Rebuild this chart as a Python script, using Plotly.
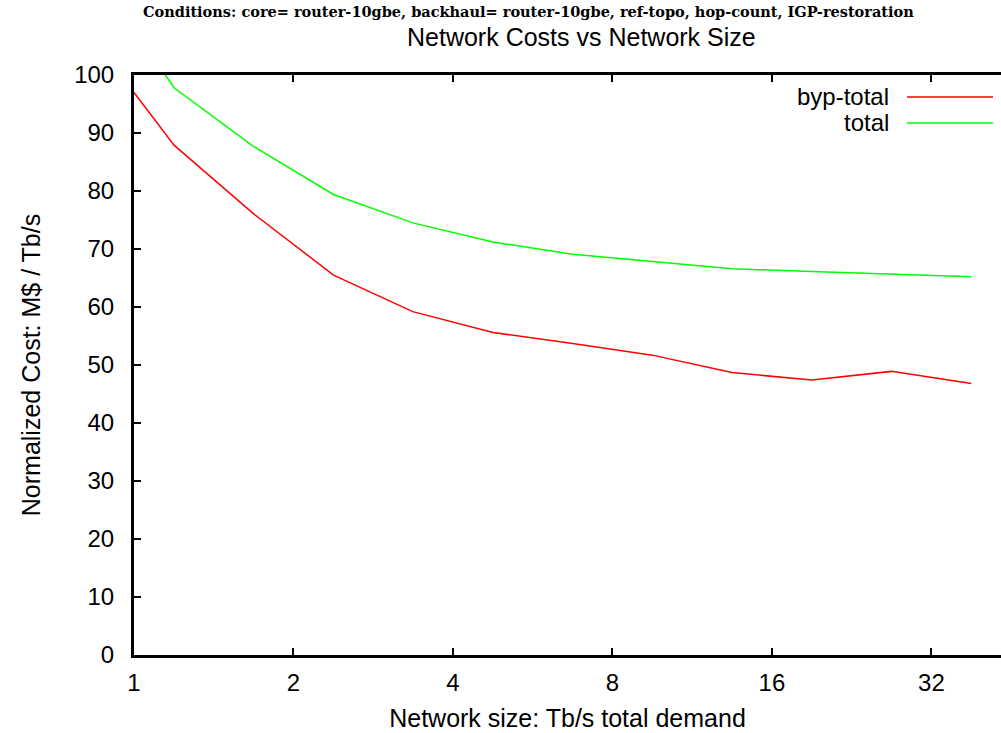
import plotly.graph_objects as go

# Network size (Tb/s total demand) and normalized cost (M$ per Tb/s)
demand_tbps = [1.0, 1.19, 1.68, 2.38, 3.36, 4.76, 6.73, 9.51, 13.45, 19.03, 26.9, 38.05]
byp_total = [97.0, 87.9, 76.1, 65.5, 59.2, 55.6, 53.7, 51.7, 48.7, 47.4, 48.9, 46.8]
total = [108.1, 97.8, 87.7, 79.4, 74.5, 71.2, 69.1, 67.8, 66.6, 66.1, 65.6, 65.2]

series_names = ["byp-total", "total"]
series_colors = ["#ff0000", "#00ff00"]

x_ticks = [1, 2, 4, 8, 16, 32]
y_ticks = list(range(0, 101, 10))

W, H = 1001, 733
L, R, T, B = 134, 0, 75, 78
pw = W - L - R
ph = H - T - B


def px_to_paper(px, py):
    """Map a pixel position on the page to plot-area paper coordinates."""
    return (px - L) / pw, 1 - (py - T) / ph


fig = go.Figure()
for name, ys, col in zip(series_names, [byp_total, total], series_colors):
    fig.add_trace(go.Scatter(
        x=demand_tbps, y=ys, mode="lines", name=name,
        line=dict(color=col, width=1.5), showlegend=False,
    ))

axis_font = dict(family="Liberation Sans, Arial, sans-serif", size=24, color="black")
label_font = dict(family="Liberation Sans, Arial, sans-serif", size=25, color="black")

fig.update_layout(
    width=W, height=H,
    margin=dict(l=L, r=R, t=T, b=B),
    paper_bgcolor="white", plot_bgcolor="white",
    xaxis=dict(
        type="log", range=[0, 1.6365],
        tickvals=x_ticks, ticktext=[str(v) for v in x_ticks],
        ticks="inside", ticklen=7, tickwidth=2, tickcolor="black",
        showline=True, linecolor="black", linewidth=3, mirror="ticks",
        showgrid=False, zeroline=False,
        tickfont=axis_font, ticklabelstandoff=4,
        title=dict(text="Network size: Tb/s total demand", font=label_font, standoff=15),
    ),
    yaxis=dict(
        range=[0, 100], tickvals=y_ticks,
        ticks="inside", ticklen=7, tickwidth=2, tickcolor="black",
        showline=True, linecolor="black", linewidth=3,
        showgrid=False, zeroline=False,
        tickfont=axis_font, ticklabelstandoff=12,
        title=dict(text="Normalized Cost: M$ / Tb/s", font=label_font, standoff=27),
    ),
)

# Header lines
hx, hy = px_to_paper(528, 12)
fig.add_annotation(
    x=hx, y=hy, xref="paper", yref="paper",
    xanchor="center", yanchor="middle", showarrow=False,
    text="<b>Conditions: core= router-10gbe, backhaul= router-10gbe, ref-topo, hop-count, IGP-restoration</b>",
    font=dict(family="DejaVu Serif, serif", size=14.5, color="black"),
)
tx, ty = px_to_paper(581, 37)
fig.add_annotation(
    x=tx, y=ty, xref="paper", yref="paper",
    xanchor="center", yanchor="middle", showarrow=False,
    text="Network Costs vs Network Size",
    font=label_font,
)

# Key: label on the left, line sample on the right
key_rows = [97, 123]
for name, col, ky in zip(series_names, series_colors, key_rows):
    ax_, ay_ = px_to_paper(891, ky)
    fig.add_annotation(
        x=ax_, y=ay_, xref="paper", yref="paper",
        xanchor="right", yanchor="middle", showarrow=False,
        text=name, font=axis_font,
    )
    x0, y0 = px_to_paper(907, ky)
    x1, _ = px_to_paper(993, ky)
    fig.add_shape(
        type="line", xref="paper", yref="paper",
        x0=x0, x1=x1, y0=y0, y1=y0,
        line=dict(color=col, width=1.5),
    )

fig.write_html("out.html")
